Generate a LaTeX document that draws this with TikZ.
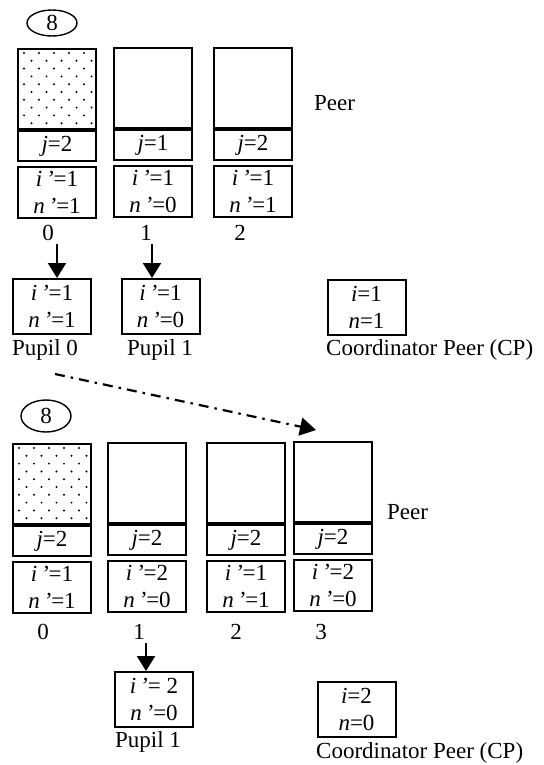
\documentclass[tikz,border=0pt]{standalone}
\usepackage{fontspec}
\setmainfont{Liberation Serif}
\usetikzlibrary{arrows.meta,shapes.geometric}
\begin{document}
\begin{tikzpicture}[x=1pt,y=-1pt,
  every node/.style={font=\fontsize{23}{27}\selectfont, inner sep=0pt},
  upbox/.style={draw, line width=2pt, minimum width=78pt, minimum height=80pt, anchor=north west},
  jbox/.style={draw, line width=2pt, minimum width=78pt, minimum height=30pt, anchor=north},
  ibox/.style={draw, line width=2pt, minimum width=78pt, minimum height=51pt, anchor=north, align=center},
  pbox/.style={draw, line width=2pt, minimum width=78pt, minimum height=55pt, align=center},
  oval/.style={draw, ellipse, line width=1.4pt, minimum width=50pt},
  arr/.style={line width=2.2pt, -{Triangle[width=18pt,length=15pt]}},
  dasharr/.style={line width=2.2pt, dash pattern=on 10pt off 6pt on 2.5pt off 6pt, -{Triangle[width=18pt,length=16pt]}}]
\useasboundingbox (0,0) rectangle (543,765);

% ---------- top part ----------
\node[oval, minimum height=26pt] (o1) at (52,23) {8};
\foreach \k/\x/\t/\j/\i/\n/\lx in {0/17/48/2/1/1/48, 1/113/47/1/1/0/146, 2/213/47/2/1/1/240}{
  \node[upbox] (A\k) at (\x,\t) {};
  \node[jbox] (AJ\k) at (A\k.south) {\textit{j}=\j};
  \node[ibox] (AI\k) at ([yshift=-4pt]AJ\k.south) {\textit{i\,’}=\i\\\textit{n\,’}=\n};
  \node (AL\k) at (\lx,233) {\k};
}
\foreach \r in {0,...,9}{
  \foreach \c in {0,...,4}{
    \fill ({17+7+7.5*mod(\r,2)+15*\c},{48+5+7.8*\r}) circle (1.1pt);
  }
}
\node[anchor=west] (peerA) at (314,103) {Peer};

\node[pbox] (PA0) at (52,306.5) {\textit{i\,’}=1\\\textit{n\,’}=1};
\node[pbox] (PA1) at (160.5,306.5) {\textit{i\,’}=1\\\textit{n\,’}=0};
\node[pbox] (CA) at (366.5,307) {\textit{i}=1\\\textit{n}=1};
\node (PLA0) at (45,350) {Pupil 0};
\node (PLA1) at (160,350) {Pupil 1};
\node[anchor=west] (CLA) at (326,350) {Coordinator Peer (CP)};

\draw[arr] ([xshift=5pt]PA0.north |- AL0.south) ++(0,3) -- ([xshift=5pt]PA0.north);
\draw[arr] ([xshift=-8.5pt]PA1.north |- AL1.south) ++(0,3) -- ([xshift=-8.5pt]PA1.north);

% ---------- dash-dot arrow ----------
\coordinate (ds) at (55,374);
\coordinate (de) at (316,430);
\draw[dasharr] (ds) -- (de);

% ---------- bottom part ----------
\node[oval, minimum height=32pt] (o2) at (46,416) {8};
\foreach \k/\x/\t/\j/\i/\n/\lx in {0/12/443/2/1/1/43, 1/107/442/2/2/0/139, 2/206/442/2/1/1/236, 3/293/441/2/2/0/321}{
  \node[upbox] (B\k) at (\x,\t) {};
  \node[jbox] (BJ\k) at (B\k.south) {\textit{j}=\j};
  \node[ibox] (BI\k) at ([yshift=-4pt]BJ\k.south) {\textit{i\,’}=\i\\\textit{n\,’}=\n};
  \node (BL\k) at (\lx,632) {\k};
}
\foreach \r in {0,...,9}{
  \foreach \c in {0,...,4}{
    \fill ({12+7+7.5*mod(\r,2)+15*\c},{443+5+7.8*\r}) circle (1.1pt);
  }
}
\node[anchor=west] (peerB) at (387,512) {Peer};

\node[pbox] (PB1) at (154,699.5) {\textit{i\,’}= 2\\\textit{n\,’}=0};
\node[pbox] (CB) at (356.5,709) {\textit{i}=2\\\textit{n}=0};
\node (PLB1) at (148,742) {Pupil 1};
\node[anchor=west] (CLB) at (316,753) {Coordinator Peer (CP)};

\draw[arr] ([xshift=-8pt]PB1.north |- BL1.south) ++(0,3) -- ([xshift=-8pt]PB1.north);
\end{tikzpicture}
\end{document}
